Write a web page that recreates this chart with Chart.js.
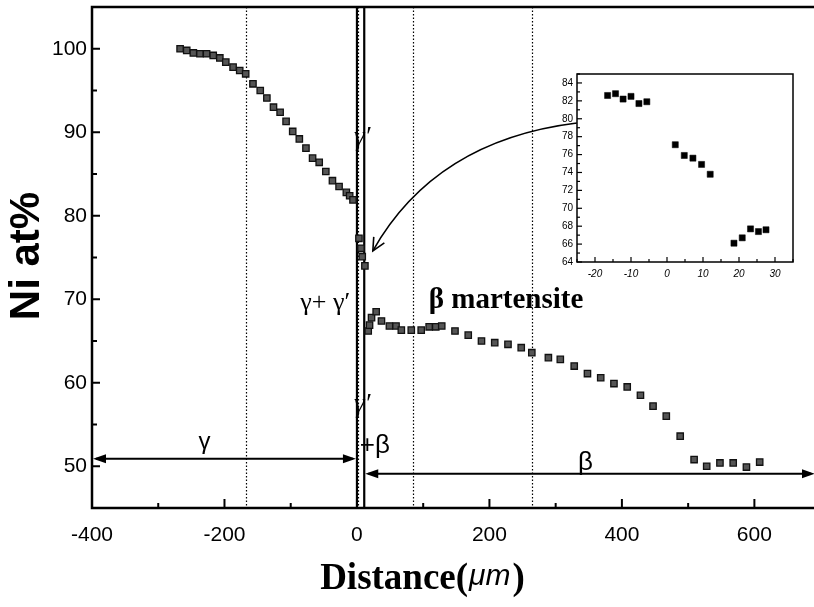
<!DOCTYPE html>
<html>
<head>
<meta charset="utf-8">
<script src="https://cdn.jsdelivr.net/npm/chart.js@4.4.1/dist/chart.umd.min.js"></script>
<style>
  body { margin: 0; background: #fff; }
  #wrap { position: relative; width: 814px; height: 607px; }
  #main { position: absolute; left: 0; top: 0; }
  #inset { position: absolute; left: 545px; top: 68px; }
</style>
</head>
<body>
<div id="wrap">
  <canvas id="main" width="814" height="607"></canvas>
  <canvas id="inset" width="255" height="222"></canvas>
</div>
<script>
//---------------DATA-------------
// distance (um) and Ni content (at%)
const distanceUm = [-267, -257, -247, -237, -227, -217, -207, -198, -187, -177, -168, -157, -146, -136, -126, -116,
  -107, -97, -87, -77, -67, -57, -47, -37, -27, -16, -11, -6, 3, 6, 8, 12, 17, 19, 22, 29, 37, 49, 59, 67, 82, 97,
  109, 119, 128, 148, 168, 188, 208, 228, 248, 264, 289, 307, 328, 348, 368, 388, 408, 428, 447, 467, 488, 509,
  528, 548, 568, 588, 608];
const niAtPct = [100.0, 99.8, 99.5, 99.4, 99.4, 99.2, 98.9, 98.4, 97.8, 97.4, 97.0, 95.8, 95.0, 94.1, 93.0, 92.4,
  91.3, 90.1, 89.2, 88.1, 86.9, 86.4, 85.3, 84.2, 83.5, 82.8, 82.4, 81.9, 77.3, 76.1, 75.1, 74.0, 66.2, 66.9, 67.8,
  68.5, 67.4, 66.8, 66.8, 66.3, 66.3, 66.3, 66.7, 66.7, 66.8, 66.2, 65.7, 65.0, 64.8, 64.6, 64.2, 63.6, 63.0, 62.8,
  62.0, 61.1, 60.6, 59.9, 59.5, 58.5, 57.2, 56.0, 53.6, 50.8, 50.0, 50.4, 50.4, 49.9, 50.5];

// inset (zoom on the interface)
const insetDistance = [-16.5, -14.3, -12.2, -10, -7.8, -5.6, 2.3, 4.8, 7.2, 9.6, 12, 18.6, 20.9, 23.2, 25.4, 27.5];
const insetNi = [82.6, 82.8, 82.2, 82.5, 81.7, 81.9, 77.1, 75.9, 75.6, 74.9, 73.8, 66.1, 66.7, 67.7, 67.4, 67.6];

const xTickValues = [-400, -200, 0, 200, 400, 600];
const xMinorTicks = [-300, -100, 100, 300, 500];
const yTickValues = [50, 60, 70, 80, 90, 100];
const yMinorTicks = [55, 65, 75, 85, 95];
const insetXTicks = [-20, -10, 0, 10, 20, 30];
const insetYTicks = [64, 66, 68, 70, 72, 74, 76, 78, 80, 82, 84];

// phase boundaries (um)
const dottedBounds = [-168, 2, 84, 265];
const solidBounds = [0, 11];

//---------------HELPERS-------------
function arrowHead(ctx, x, y, dir) {
  ctx.beginPath();
  ctx.moveTo(x, y);
  ctx.lineTo(x - dir * 13, y - 4.5);
  ctx.lineTo(x - dir * 13, y + 4.5);
  ctx.closePath();
  ctx.fill();
}

function txt(ctx, s, x, y, font, align) {
  ctx.font = font;
  ctx.textAlign = align || "center";
  ctx.textBaseline = "middle";
  ctx.fillText(s, x, y);
}

// keep the plot box where we put it (no label overhang padding)
function noPad(s) {
  s.paddingTop = 0; s.paddingBottom = 0; s.paddingLeft = 0; s.paddingRight = 0;
}

//---------------MAIN CHART DECORATION-------------
const decor = {
  id: "decor",
  beforeDatasetsDraw(chart) {
    const { ctx, chartArea: a, scales: { x, y } } = chart;
    ctx.save();
    ctx.strokeStyle = "#000";
    // dotted phase lines
    ctx.lineWidth = 1.2;
    ctx.setLineDash([1.5, 2]);
    dottedBounds.forEach((v) => {
      const px = Math.round(x.getPixelForValue(v)) + 0.5;
      ctx.beginPath();
      ctx.moveTo(px, a.top);
      ctx.lineTo(px, a.bottom);
      ctx.stroke();
    });
    ctx.setLineDash([]);
    // double interface line
    ctx.lineWidth = 2.2;
    solidBounds.forEach((v) => {
      const px = x.getPixelForValue(v);
      ctx.beginPath();
      ctx.moveTo(px, a.top);
      ctx.lineTo(px, a.bottom);
      ctx.stroke();
    });
    // frame
    ctx.lineWidth = 2.5;
    ctx.beginPath();
    ctx.moveTo(a.right + 2, a.top);
    ctx.lineTo(a.left, a.top);
    ctx.lineTo(a.left, a.bottom);
    ctx.lineTo(a.right + 2, a.bottom);
    ctx.stroke();
    // inward ticks
    ctx.lineWidth = 2;
    xTickValues.forEach((v) => {
      const px = x.getPixelForValue(v);
      ctx.beginPath(); ctx.moveTo(px, a.bottom); ctx.lineTo(px, a.bottom - 9); ctx.stroke();
    });
    xMinorTicks.forEach((v) => {
      const px = x.getPixelForValue(v);
      ctx.beginPath(); ctx.moveTo(px, a.bottom); ctx.lineTo(px, a.bottom - 5); ctx.stroke();
    });
    yTickValues.forEach((v) => {
      const py = y.getPixelForValue(v);
      ctx.beginPath(); ctx.moveTo(a.left, py); ctx.lineTo(a.left + 8, py); ctx.stroke();
    });
    yMinorTicks.forEach((v) => {
      const py = y.getPixelForValue(v);
      ctx.beginPath(); ctx.moveTo(a.left, py); ctx.lineTo(a.left + 5, py); ctx.stroke();
    });
    ctx.restore();
  },
  afterDatasetsDraw(chart) {
    const { ctx, chartArea: a, scales: { x, y } } = chart;
    ctx.save();
    ctx.fillStyle = "#000";
    ctx.strokeStyle = "#000";
    // gamma region arrow (double headed)
    let yy = y.getPixelForValue(50.9);
    let x1 = a.left, x2 = x.getPixelForValue(0);
    ctx.lineWidth = 2;
    ctx.beginPath(); ctx.moveTo(x1 + 4, yy); ctx.lineTo(x2 - 4, yy); ctx.stroke();
    arrowHead(ctx, x1 + 1, yy, -1);
    arrowHead(ctx, x2 - 1, yy, 1);
    // beta region arrow
    yy = y.getPixelForValue(49.1);
    x1 = x.getPixelForValue(11);
    x2 = a.right + 1;
    ctx.beginPath(); ctx.moveTo(x1 + 4, yy); ctx.lineTo(x2 - 4, yy); ctx.stroke();
    arrowHead(ctx, x1 + 1, yy, -1);
    arrowHead(ctx, x2, yy, 1);

    // curved arrow from the inset to the interface
    const p0 = [x.getPixelForValue(332), y.getPixelForValue(91.1)];
    const c = [x.getPixelForValue(118), y.getPixelForValue(89)];
    const p2 = [x.getPixelForValue(24), y.getPixelForValue(75.8)];
    ctx.lineWidth = 1.6;
    ctx.beginPath();
    ctx.moveTo(p0[0], p0[1]);
    ctx.quadraticCurveTo(c[0], c[1], p2[0], p2[1]);
    ctx.stroke();
    const ang = Math.atan2(p2[1] - c[1], p2[0] - c[0]);
    ctx.beginPath();
    ctx.moveTo(p2[0] - 14 * Math.cos(ang - 0.45), p2[1] - 14 * Math.sin(ang - 0.45));
    ctx.lineTo(p2[0], p2[1]);
    ctx.lineTo(p2[0] - 14 * Math.cos(ang + 0.45), p2[1] - 14 * Math.sin(ang + 0.45));
    ctx.stroke();

    // labels
    const serif = "'Liberation Serif', 'DejaVu Serif', serif";
    const sans = "'Liberation Sans', Arial, sans-serif";
    txt(ctx, "\u03b3\u2032", x.getPixelForValue(8), y.getPixelForValue(89.3), "italic 27px " + serif);
    txt(ctx, "\u03b3\u2032", x.getPixelForValue(8), y.getPixelForValue(57.4), "italic 27px " + serif);
    txt(ctx, "\u03b3+ \u03b3\u2032", x.getPixelForValue(-48), y.getPixelForValue(69.5), "26px " + serif);
    txt(ctx, "\u03b2 martensite", x.getPixelForValue(225), y.getPixelForValue(69.8), "bold 29px " + serif);
    txt(ctx, "\u03b3", x.getPixelForValue(-230), y.getPixelForValue(52.8), "24px " + sans);
    txt(ctx, "+\u03b2", x.getPixelForValue(27), y.getPixelForValue(52.5), "26px " + sans);
    txt(ctx, "\u03b2", x.getPixelForValue(345), y.getPixelForValue(50.4), "26px " + sans);

    // axis titles
    ctx.save();
    ctx.translate(27, 256);
    ctx.rotate(-Math.PI / 2);
    txt(ctx, "Ni at%", 0, 0, "bold 42px " + sans);
    ctx.restore();

    const f1 = "bold 37px " + serif, f2 = "italic 30px " + sans;
    ctx.font = f1;
    const w1 = ctx.measureText("Distance(").width;
    const w3 = ctx.measureText(")").width;
    ctx.font = f2;
    const w2 = ctx.measureText("\u03bcm").width;
    let sx = 421 - (w1 + w2 + w3) / 2;
    const ty = 579;
    txt(ctx, "Distance(", sx, ty, f1, "left");
    txt(ctx, "\u03bcm", sx + w1 + 1, ty - 2, f2, "left");
    txt(ctx, ")", sx + w1 + w2 + 3, ty, f1, "left");
    ctx.restore();
  }
};

new Chart(document.getElementById("main").getContext("2d"), {
  type: "scatter",
  data: {
    datasets: [{
      data: distanceUm.map((d, i) => ({ x: d, y: niAtPct[i] })),
      pointStyle: "rect",
      pointRadius: 4.5,
      backgroundColor: "#555",
      borderColor: "#111",
      borderWidth: 1.3
    }]
  },
  options: {
    responsive: false,
    animation: false,
    devicePixelRatio: 1,
    layout: { autoPadding: false, padding: { top: 7, right: 0, left: 0, bottom: 0 } },
    plugins: { legend: { display: false }, tooltip: { enabled: false } },
    scales: {
      x: {
        min: -400, max: 690,
        afterBuildTicks: (s) => { s.ticks = xTickValues.map((v) => ({ value: v })); },
        afterFit: (s) => { s.height = 99; noPad(s); },
        grid: { display: false, drawTicks: false },
        border: { display: false },
        ticks: { color: "#000", padding: 15, maxRotation: 0, font: { family: "'Liberation Sans', Arial", size: 21 } }
      },
      y: {
        min: 45, max: 105,
        afterBuildTicks: (s) => { s.ticks = yTickValues.map((v) => ({ value: v })); },
        afterFit: (s) => { s.width = 92; noPad(s); },
        grid: { display: false, drawTicks: false },
        border: { display: false },
        ticks: { color: "#000", padding: 5, font: { family: "'Liberation Sans', Arial", size: 21 } }
      }
    }
  },
  plugins: [decor]
});

//---------------INSET-------------
const insetFrame = {
  id: "insetFrame",
  beforeDatasetsDraw(chart) {
    const { ctx, chartArea: a, scales: { x, y } } = chart;
    ctx.save();
    ctx.strokeStyle = "#000";
    ctx.lineWidth = 1.5;
    ctx.strokeRect(a.left, a.top, a.right - a.left, a.bottom - a.top);
    ctx.lineWidth = 1.2;
    for (let v = -25; v <= 35; v += 5) {
      const px = x.getPixelForValue(v);
      const len = v % 10 === 0 ? 5 : 3;
      ctx.beginPath(); ctx.moveTo(px, a.bottom); ctx.lineTo(px, a.bottom - len); ctx.stroke();
    }
    for (let v = 64; v <= 85; v += 1) {
      const py = y.getPixelForValue(v);
      const len = v % 2 === 0 ? 5 : 3;
      ctx.beginPath(); ctx.moveTo(a.left, py); ctx.lineTo(a.left + len, py); ctx.stroke();
    }
    ctx.restore();
  }
};

new Chart(document.getElementById("inset").getContext("2d"), {
  type: "scatter",
  data: {
    datasets: [{
      data: insetDistance.map((d, i) => ({ x: d, y: insetNi[i] })),
      pointStyle: "rect",
      pointRadius: 4.3,
      backgroundColor: "#000",
      borderColor: "#000",
      borderWidth: 0.5
    }]
  },
  options: {
    responsive: false,
    animation: false,
    devicePixelRatio: 1,
    layout: { autoPadding: false, padding: { top: 6, right: 7, left: 0, bottom: 0 } },
    plugins: { legend: { display: false }, tooltip: { enabled: false } },
    scales: {
      x: {
        min: -25, max: 35,
        afterBuildTicks: (s) => { s.ticks = insetXTicks.map((v) => ({ value: v })); },
        afterFit: (s) => { s.height = 28; noPad(s); },
        grid: { display: false, drawTicks: false },
        border: { display: false },
        ticks: { color: "#000", padding: 6, maxRotation: 0, font: { family: "'Liberation Sans', Arial", size: 10, style: "italic" } }
      },
      y: {
        min: 64, max: 85,
        afterBuildTicks: (s) => { s.ticks = insetYTicks.map((v) => ({ value: v })); },
        afterFit: (s) => { s.width = 32; noPad(s); },
        grid: { display: false, drawTicks: false },
        border: { display: false },
        ticks: { color: "#000", padding: 4, font: { family: "'Liberation Sans', Arial", size: 10 } }
      }
    }
  },
  plugins: [insetFrame]
});
</script>
</body>
</html>
